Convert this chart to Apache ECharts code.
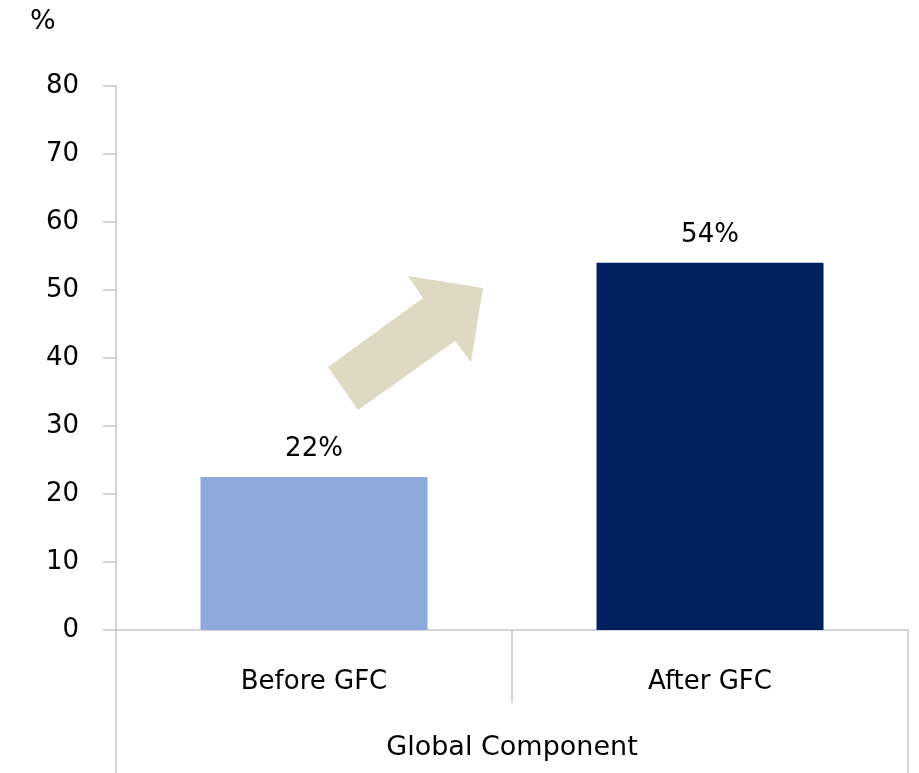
<!DOCTYPE html>
<html>
<head>
<meta charset="utf-8">
<script src="https://cdn.jsdelivr.net/npm/echarts@6/dist/echarts.min.js"></script>
<style>
    html, body { margin: 0; padding: 0; background: #fff; }
    #chart { width: 919px; height: 773px; }
</style>
</head>
<body>
<div id="chart"></div>
<script>
// data
const categories = ['Before GFC', 'After GFC'];
const groupLabel = ['Global Component'];
const values = [22.5, 54];
const valueLabels = ['22%', '54%'];
const barColors = ['#8EA9DB', '#002060'];

const gray = '#c6c6c6';
const numFont = 'DejaVu Sans';
const textFont = 'DejaVu Sans';

const chart = echarts.init(document.getElementById('chart'));

const option = {
    animation: false,
    title: {
        text: '%',
        left: 25,
        top: 3,
        textStyle: { fontFamily: numFont, fontSize: 27, fontWeight: 'normal', color: '#000' }
    },
    grid: { left: 116, right: 11, top: 86, bottom: 143 },
    xAxis: [
        {
            type: 'category',
            data: categories,
            axisLine: { lineStyle: { color: gray, width: 1.5 } },
            axisTick: { show: true, interval: 0, length: 73, lineStyle: { color: gray, width: 1.5 } },
            axisLabel: { margin: 39, fontFamily: textFont, fontSize: 26, color: '#000' }
        },
        {
            type: 'category',
            position: 'bottom',
            offset: 73,
            data: groupLabel,
            axisLine: { show: false },
            axisTick: { show: true, interval: 0, length: 72, lineStyle: { color: gray, width: 1.5 } },
            axisLabel: { margin: 31, fontFamily: textFont, fontSize: 27, color: '#000' }
        }
    ],
    yAxis: {
        type: 'value',
        min: 0,
        max: 80,
        interval: 10,
        splitLine: { show: false },
        axisLine: { show: true, lineStyle: { color: gray, width: 1.5 } },
        axisTick: { show: true, length: 13, lineStyle: { color: gray, width: 1.5 } },
        axisLabel: { margin: 37, fontFamily: numFont, fontSize: 26, color: '#000' }
    },
    series: [
        {
            type: 'bar',
            barWidth: 227,
            data: values.map((v, i) => ({ value: v, itemStyle: { color: barColors[i] } })),
            label: {
                show: true,
                position: 'top',
                distance: 15,
                fontFamily: numFont,
                fontSize: 26,
                color: '#000',
                formatter: p => valueLabels[p.dataIndex]
            }
        }
    ],
    graphic: [
        {
            type: 'polygon',
            silent: true,
            shape: {
                points: [
                    [328, 367], [358, 410], [455, 341], [471, 362],
                    [483, 288], [408, 276], [423, 298]
                ]
            },
            style: { fill: '#DDD9C3' }
        }
    ]
};

chart.setOption(option);
</script>
</body>
</html>
